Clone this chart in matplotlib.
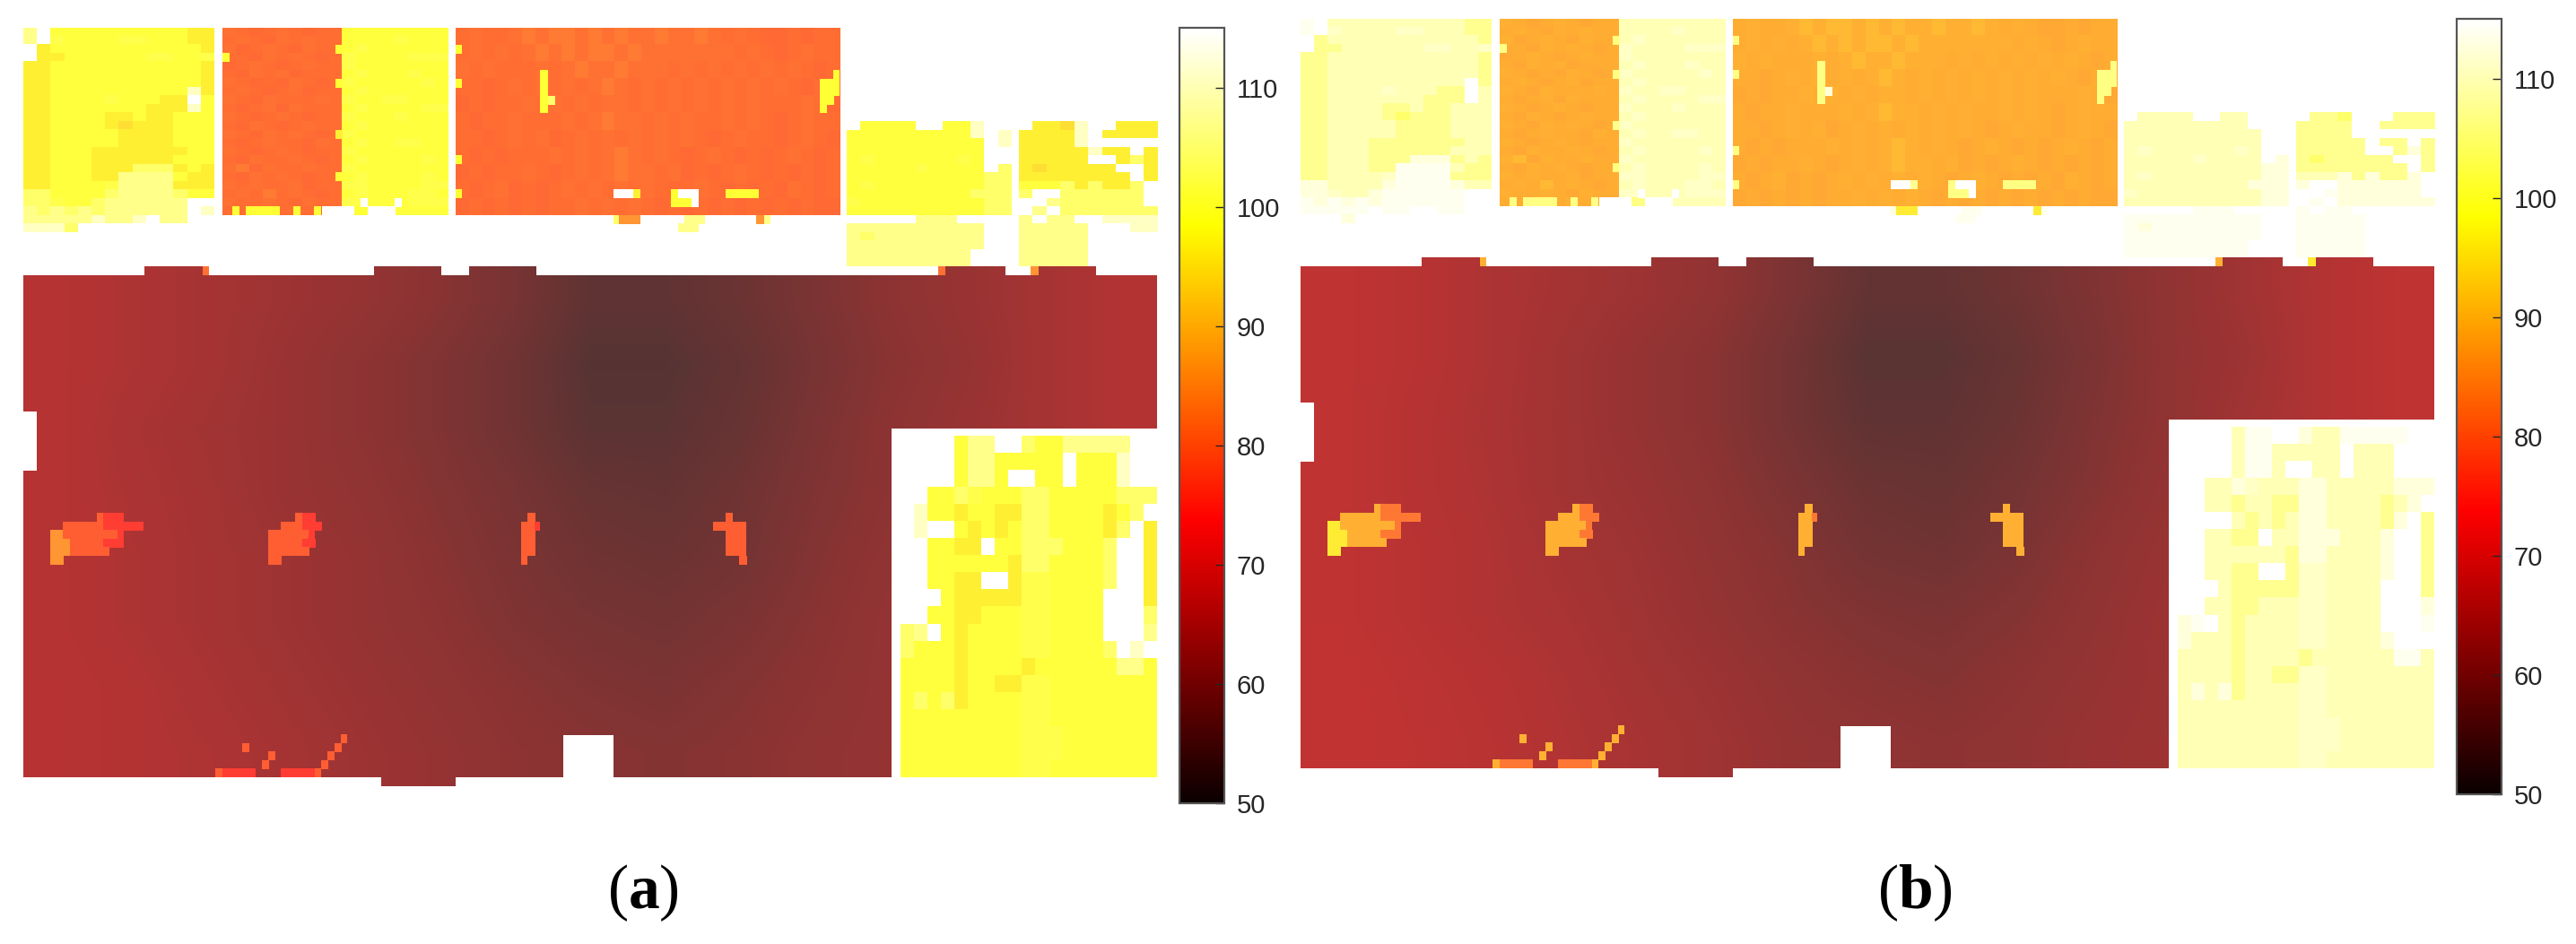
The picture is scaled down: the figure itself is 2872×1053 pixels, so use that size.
import matplotlib
matplotlib.use('Agg')
import matplotlib.pyplot as plt
import numpy as np
from matplotlib.colors import ListedColormap, Normalize
from matplotlib.cm import ScalarMappable
from matplotlib.patches import Polygon

plt.rcParams['font.family'] = ['Liberation Sans', 'DejaVu Sans']
plt.rcParams['mathtext.fontset'] = 'custom'
plt.rcParams['mathtext.rm'] = 'Liberation Serif'
plt.rcParams['mathtext.bf'] = 'Liberation Serif:bold'

# temperature read for every letter used in the room maps
temps_a = {'o': 80.8, 'O': 80.3, 'q': 81.3, 'r': 82.3, 'R': 75.0, 'T': 79.0, 'B': 85.7,
           'G': 94.5, 'g': 96.5, 'Z': 98.5, 'Y': 99.3, 'y': 100.5, 'p': 103.0, 'P': 105.5, 'w': 110.0}
temps_b = {'o': 88.5, 'O': 88.0, 'q': 89.0, 'r': 90.0, 'R': 82.0, 'T': 89.0, 'B': 96.0,
           'G': 103.0, 'g': 106.0, 'Z': 105.0, 'Y': 109.0, 'y': 110.2, 'p': 112.0, 'P': 113.5, 'w': 115.0}

room_a = ["P YYYYYYYYYYgg", "P yYYYYyyYYYgg", " gYYYYYYYYYYYg", " ggYYYYYYyyYYy",
          "ggYYYYYYYYYYYg", "ggYYYYYYYYYYYg", "ggYYYYYYYYYYYg", "ggYYYYYYYYYYwg",
          "ggYYYYyYYYgg Y", "ggYYYYYYYgggwY", "ggYYYYggYggYYY", "ggYYYYgGgggYYY",
          "ggYYYYYggggYYY", "ggYYYYYggggYYY", "ggYYYgggggggYY", "ggYYYggggggYYY",
          "ggYYYgggpppgYg", "ggYYYggPPPPYgg", "ggYYYYyPPPPggg", "ppYYYYpPPPPpYY",
          "ppyYYpPPPPPP  ", "PpPpPpPPPPPP w", "PPPPPwPPw PP  ", "wwwp          "]

room_b1 = ["qoOoqoOoo", "oqoOqoqoo", "qOoqoOqoo", "ooOqoqoOo", "OoqoOoqoo", "oOqoqOooo",
           "qoOoOqoOo", "oqoOoqOoo", "qoOqoooqo", "oOoqOqooo", "qoOoqoOoo", "oOqoOoqoo",
           "qoOqoqoOo", "oOoqooOqo", "qoOoqoOoo", "oOqooqoOo", "qrOqooqoo", "oOqoqoOoo",
           "qoqooqOoo", "oqoroqoOo", "qooqoOqoo", "ooOqoqoOo"]

room_b2 = ["YYYYYYYY", "YYYYyYYY", "YyYYYYYY", "yYYYYyyy", "yYYYYYYY", "YyYYYyYY", "yYYYYYyY",
           "YyYYYYYY", "yYYyyYYY", "YyYYYYyy", "yYYYyYYY", "YyYYYYYY", "yYYYYYYY", "YyYYyyYY",
           "yYYYYYYY", "YyYYYYyY", "yYYYYYYY", "YyYYYYyY", "yyYYYYyy", "YyYYYyyY", "yyYYYyyy",
           "YyYYYYYY"]

room_c = ["oqooqrqrrqrqrqqrqqrqoqoOOoOoo", "oqoqoqrqrqrrqrqqqqqqqoqoOoqoo",
          "qoqoooqoqrqqrqqqoqoqoqoqoqoOo", "ooOoqoqoqoqrqoqoqoqoqoqoqoOoq",
          "OoOooqoqoqoqqoqoqoqoqoqoooqoO", "oOooqoooqoqrqqoqoqooqoqoOoqoo",
          "ooOoqoqOoqoqoqoqoqoOoqooOoqoO", "oOoOoooqoqoqrqoqoOoqoOoOoqoOo",
          "OoOooqoOoqoqrqqoqOoOoqoOoOoOo", "oOoqOoOoqoqoqoqoOoqoOoOoOqoOo",
          "OoOoOoOooqoqoqoOoOoOoOoOoOoOO"]

room_d = [" YYYY  YYw  ", "YYYYYYYYYw w", "YYYYYYYYYY w", "YYYYYYYYYY  ", "YyYYYYYYyY  ",
          "YYYYYyYYYY p", "YYYYYYYYYYpp", "YyYYYYYYYYpp", "YYYYYYYYYppp", "yYYYYYYYYYpp",
          "YYYYYYYYYYpp", "     PPP    ", "PPPPPPPPPP  ", "PpPPPPPPPP  ", "PPPPPPPPPP  ",
          "PPPPPPPPP   ", "PPPPPPPPP   "]

room_e = [" ggGw  ggg", "ggggw gggg", "ggggw     ", "gggggwgg g", "ggggg  gpg", "gGggggg  g",
          "gggggggg g", "YYYpgpggp ", "p  pppppp ", "  Ppppppp ", " P ppppppp", "P PP  wwww",
          "PPPPP   ww", "PPPPP     ", "PPPPP     ", "PPPPP     ", "PPPPP     "]

room_f = ["    YPP  pYYPPPPP  ", "    YPPYYYYY YYYw  ", "    YPPY  YY YYYw  ", "  YYpyYYYppYYYYYppp",
          " wYYgYYggppYYYYgYp ", " w  YgYgYppYYYYgp g", "  YYgg YYpppYYYp  g", "  YYYYYYgppYYYYp  g",
          "  YYgg  gyyYYYYp  g", "   YgggggyyYYYY   g", "  YYggYYYyyYYYY   p", "pP YgYYYYyyYYYY   P",
          "pYYYgYYYYyyYYYYp w ", "YYYYgYYYYgYYYYYYPPY", "YYYYgYYggyyYYYYYYYY", "YpYpgYYYYyyYYYYYYYY",
          "YYYYYYYYYyyYYYYYYYY", "YYYYYYYYYyyyYYYYYYY", "YYYYYYYYYyyyYYYYYYY", "YYYYYYYYYyyYYYYYYYY"]

# first column, last column, first row, last row of each map on the cell grid
room_cols = [(0, 28.3), (29.5, 47.2), (47.2, 62.9), (64, 120.9), (122, 146.4), (147.5, 168), (130, 168)]
room_rows = [(0, 24), (0, 22), (0, 22), (0, 22), (11, 28), (11, 28), (48, 88)]
room_maps = [room_a, room_b1, room_b2, room_c, room_d, room_e, room_f]

# wide floor, values read on a coarse lattice
floor_a = [[64.8, 64, 63, 62, 61, 59.5, 57.5, 54.5, 54.5, 56, 58, 60, 61.5, 63, 64.5],
           [64.8, 64, 63, 61.5, 60, 58.5, 56.5, 53.5, 53.5, 55, 57.5, 59.5, 61, 63, 64.5],
           [64.8, 63.5, 62.5, 61.5, 60, 58.5, 56.5, 54, 54, 55.5, 58, 60, 61.5, 63, 64.5],
           [64.8, 63.8, 62.8, 61.5, 60.5, 59, 57.5, 55.5, 55, 56.5, 58.5, 60, 61.5, 63, 64.5],
           [64.8, 64, 63, 62, 61, 59.5, 58, 56.5, 56, 57, 59, 60.5, 61.5, 63, 64.5],
           [64.8, 64, 63, 62, 61, 60, 58.5, 57.5, 57, 58, 59.5, 61, 61.5, 63, 64.5],
           [65, 64.5, 63.5, 62.5, 61.5, 60.5, 59.5, 58.5, 58, 59, 60, 61, 61.5, 63, 64.5],
           [65, 64.5, 64, 63, 62, 61, 60, 59.5, 59, 59.5, 60.5, 61, 61.5, 63, 64.5]]
floor_b = [[66.2, 65.3, 64, 63, 62, 60.5, 58, 55, 55, 56.5, 58.5, 60.5, 62.5, 64.5, 66],
           [66.2, 65.3, 64, 62.5, 61, 59.5, 57, 53.8, 53.8, 55.5, 58, 60.5, 62, 64.5, 66],
           [66.2, 65, 63.8, 62.5, 61, 59.5, 57, 54.5, 54.5, 56, 58.5, 60.5, 62.5, 64.5, 66],
           [66.2, 65, 64, 62.5, 61.5, 60, 58, 56, 55.5, 57, 59, 61, 62.5, 64.5, 66],
           [66.2, 65.3, 64.3, 63, 62, 60.5, 59, 57, 56.5, 58, 60, 61.5, 62.5, 64.5, 66],
           [66.2, 65.3, 64.3, 63.5, 62.3, 61, 59.5, 58.5, 58, 59, 60.5, 62, 62.5, 64.5, 66],
           [66.5, 65.8, 65, 64, 62.8, 61.8, 60.5, 59.5, 59, 60, 61, 62, 62.5, 64.5, 66],
           [66.5, 66, 65.3, 64.3, 63.3, 62.3, 61, 60.5, 60, 60.5, 61.5, 62, 62.5, 64.5, 66]]
floor_outline_cols = [0, 18, 18, 27.5, 27.5, 52, 52, 62, 62, 66, 66, 76, 76, 135.6, 135.6, 145.5, 145.5,
                      149.3, 149.3, 159, 159, 168, 168, 128.7, 128.7, 87.5, 87.5, 80, 80, 64, 64, 53, 53,
                      0, 0, 2, 2, 0]
floor_outline_rows = [29, 29, 28, 28, 29, 29, 28, 28, 29, 29, 28, 28, 29, 29, 28, 28, 29,
                      29, 28, 28, 29, 29, 47, 47, 88, 88, 83, 83, 88, 88, 89, 89, 88,
                      88, 52, 52, 45, 45]

# single cells and short runs: col from, col to, row, letter
spots = [(26.6, 27.5, 28, 'q'), (135.6, 136.6, 28, 'q'), (149.3, 150.4, 28, 'B'),
         # strips in the third room
         (64, 64.9, 2, 'Z'), (64, 64.9, 6, 'Z'), (64, 64.9, 15, 'Z'), (64, 64.9, 19, 'Z'),
         (76.6, 77.7, 5, 'Z'), (76.6, 77.7, 6, 'Z'), (76.6, 77.7, 7, 'Z'), (76.6, 77.7, 8, 'Z'), (76.6, 77.7, 9, 'Z'),
         (77.7, 78.7, 8, 'p'), (120, 120.9, 5, 'Z'), (118, 120.9, 6, 'Z'), (118, 120.9, 7, 'Z'),
         (118, 120, 8, 'Z'), (118, 119, 9, 'Z'),
         (87.5, 90.4, 19, ' '), (90.4, 91.4, 19, 'g'), (96, 97, 19, 'Z'), (97, 100, 19, ' '), (104.1, 109, 19, 'Z'),
         (96, 99, 20, 'Z'), (99, 100, 20, ' '),
         (87.5, 88.3, 22, 'p'), (88.3, 91.4, 22, 'B'), (98, 101, 22, 'P'), (108.6, 109.8, 22, 'B'), (109.8, 110.6, 22, 'P'),
         (97, 100, 23, 'P'),
         # edges of the second room
         (29.5, 30.5, 3, 'Z'), (46.2, 47.2, 2, 'Z'), (46.2, 47.2, 6, 'Z'), (46.2, 47.2, 12, 'g'), (46.2, 47.2, 17, 'Z'),
         (29.5, 31, 21, 'o'), (31, 32, 21, 'Z'), (33, 38, 21, 'Z'), (40, 41, 21, 'Z'), (43, 44, 21, 'Z'),
         (44.2, 47.2, 21, ' '), (47.2, 49, 21, ' '), (49, 51, 21, 'Z'), (51, 55, 21, ' '), (50, 51, 20, ' '), (55, 56, 20, ' '),
         # four hot patches
         (10.9, 11.8, 57, 'T'), (11.8, 14.8, 57, 'R'), (5.9, 11.8, 58, 'T'), (11.8, 17.7, 58, 'R'),
         (4, 5.9, 59, 'B'), (5.9, 13.9, 59, 'T'), (13.9, 14.8, 59, 'R'), (4, 6.9, 60, 'B'), (6.9, 11.8, 60, 'T'),
         (11.8, 14.8, 60, 'R'), (4, 6.9, 61, 'B'), (6.9, 12.7, 61, 'T'), (4, 5.9, 62, 'B'),
         (40.3, 41.3, 57, 'T'), (41.3, 43.2, 57, 'R'), (38.2, 41.3, 58, 'T'), (41.3, 44.1, 58, 'R'),
         (36.3, 42.3, 59, 'T'), (42.3, 43.2, 59, 'R'), (36.3, 41.3, 60, 'T'), (41.3, 43.2, 60, 'R'),
         (36.3, 42.3, 61, 'T'), (36.3, 38.2, 62, 'T'),
         (74.7, 75.8, 57, 'T'), (73.8, 75.8, 58, 'T'), (75.8, 76.5, 58, 'R'), (73.8, 75.8, 59, 'T'), (73.8, 75.8, 60, 'T'),
         (73.8, 75.8, 61, 'T'), (73.8, 74.7, 62, 'T'),
         (104.1, 105.1, 57, 'T'), (102.2, 107.1, 58, 'T'), (104.1, 107.1, 59, 'T'), (104.1, 107.1, 60, 'T'),
         (104.1, 107.1, 61, 'T'), (106, 107.1, 62, 'T'),
         # marks by the bottom wall
         (47.1, 48, 83, 'T'), (46.1, 47.1, 84, 'T'), (32.4, 33.4, 84, 'T'), (45.1, 46.1, 85, 'T'), (36.3, 37.3, 85, 'T'),
         (44.1, 45.1, 86, 'T'), (35.3, 36.3, 86, 'T'), (28.4, 29.5, 87, 'T'), (29.5, 34.4, 87, 'R'),
         (38.2, 43.2, 87, 'R'), (43.2, 44, 87, 'T')]

cbar_ticks = [50, 60, 70, 80, 90, 100, 110]
panel_letters = ['a', 'b']

norm = Normalize(50, 115)
hot_vals = plt.get_cmap('hot')(np.linspace(0, 1, 256))
# the rooms look washed out against the colour bar, as if drawn at 0.8 opacity
room_cmap = ListedColormap(0.8 * hot_vals[:, :3] + 0.2)
room_cmap.set_bad('white')

W, H = 2872, 1053
fig = plt.figure(figsize=(W / 100, H / 100), dpi=100)


def px_axes(left, top, width, height):
    return fig.add_axes([left / W, 1 - (top + height) / H, width / W, height / H])


def draw_panel(dx, dy, temps, floor, letter, label_x):
    ax = px_axes(26 + dx, 31 + dy, 1264, 846)
    ax.set_axis_off()
    for rows, cols, rws in zip(room_maps, room_cols, room_rows):
        arr = np.array([[temps.get(ch, np.nan) for ch in row] for row in rows])
        ax.imshow(arr, extent=(cols[0], cols[1], rws[1], rws[0]), cmap=room_cmap, norm=norm,
                  aspect='auto', interpolation='nearest')
    im = ax.imshow(np.array(floor), extent=(0, 168, 89, 28), cmap=room_cmap, norm=norm,
                   aspect='auto', interpolation='bilinear')
    im.set_clip_path(Polygon(np.column_stack([floor_outline_cols, floor_outline_rows]), transform=ax.transData))
    for c0, c1, r, code in spots:
        ax.imshow([[temps.get(code, np.nan)]], extent=(c0, c1, r + 1, r), cmap=room_cmap, norm=norm,
                  aspect='auto', interpolation='nearest')
    ax.set_xlim(0, 168)
    ax.set_ylim(89, 0)

    cax = px_axes(1315 + dx, 31 + dy, 50, 865)
    cb = fig.colorbar(ScalarMappable(norm=norm, cmap='hot'), cax=cax)
    cb.set_ticks(cbar_ticks)
    cb.outline.set_edgecolor('#555555')
    cb.outline.set_linewidth(1.6)
    cax.tick_params(direction='in', length=7, width=1, color='#262626', labelcolor='#262626',
                    labelsize=21, pad=10)
    fig.text(label_x / W, 1 - 996 / H, r'$\mathrm{(}\mathbf{%s}\mathrm{)}$' % letter,
             fontsize=50, ha='center', va='center', color='black')


draw_panel(0, 0, temps_a, floor_a, panel_letters[0], 717)
draw_panel(1424, -10, temps_b, floor_b, panel_letters[1], 2135)

fig.savefig('out.png', dpi=100, facecolor='white')
